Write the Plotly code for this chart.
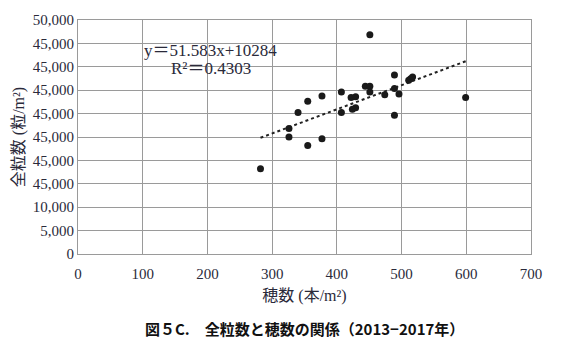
import plotly.graph_objects as go

# Data
spikes = [282, 326, 326, 340, 355, 355, 377, 377, 407, 407, 422, 429, 424, 429,
          444, 451, 451, 451, 474, 489, 489, 489, 496, 511, 514, 517, 599]
grains = [18200, 25000, 26800, 30240, 32620, 23210, 33760, 24600, 34600, 30240,
          33460, 33610, 30930, 31230, 35870, 35870, 34600, 46840, 34030, 38250,
          35360, 29670, 34180, 37140, 37450, 37830, 33460]

slope = 51.583
intercept = 10284
trend_x = [282, 600]
trend_y = [slope * v + intercept for v in trend_x]

y_tickvals = [0, 5000, 10000, 15000, 20000, 25000, 30000, 35000, 40000, 45000, 50000]
y_ticktext = ["0", "5,000", "10,000", "45,000", "45,000", "45,000", "45,000",
              "45,000", "45,000", "45,000", "50,000"]
x_tickvals = [0, 100, 200, 300, 400, 500, 600, 700]

serif = "Liberation Serif, Noto Sans CJK JP, serif"
txt_color = "#2a2a3a"

fig = go.Figure()
fig.add_trace(go.Scatter(x=trend_x, y=trend_y, mode="lines",
                         line=dict(color="#222", width=2, dash="dot"),
                         hoverinfo="skip", showlegend=False))
fig.add_trace(go.Scatter(x=spikes, y=grains, mode="markers",
                         marker=dict(color="#1a1a1a", size=7),
                         showlegend=False))

fig.add_annotation(x=205, y=43500, xref="x", yref="y", showarrow=False,
                   text="y＝51.583x+10284", font=dict(family=serif, size=17, color=txt_color))
fig.add_annotation(x=205, y=39600, xref="x", yref="y", showarrow=False,
                   text="R²＝0.4303", font=dict(family=serif, size=17, color=txt_color))

fig.add_annotation(x=0.5, y=-0.265, xref="paper", yref="paper", showarrow=False,
                   yanchor="top", text="<b>図５C.　全粒数と穂数の関係（2013−2017年）</b>",
                   font=dict(family="Noto Sans CJK JP, sans-serif", size=15, color="#111"))

fig.update_xaxes(range=[0, 700], tickvals=x_tickvals, showgrid=True,
                 gridcolor="#9a9a9a", gridwidth=1, zeroline=False,
                 showline=True, linecolor="#9a9a9a", mirror=True,
                 ticks="", ticklabelstandoff=6,
                 tickfont=dict(family=serif, size=15, color=txt_color),
                 title=dict(text="穂数 (本/m²)", standoff=8,
                            font=dict(family=serif, size=16, color=txt_color)))
fig.update_yaxes(range=[0, 50000], tickvals=y_tickvals, ticktext=y_ticktext,
                 showgrid=True, gridcolor="#9a9a9a", gridwidth=1, zeroline=False,
                 showline=True, linecolor="#9a9a9a", mirror=True, ticks="",
                 tickfont=dict(family=serif, size=15, color=txt_color),
                 title=dict(text="全粒数 (粒/m²)", standoff=4,
                            font=dict(family=serif, size=16, color=txt_color)))

fig.update_layout(width=566, height=354, paper_bgcolor="white", plot_bgcolor="white",
                  margin=dict(l=78, r=35, t=17, b=100))

fig.write_html("out.html")
